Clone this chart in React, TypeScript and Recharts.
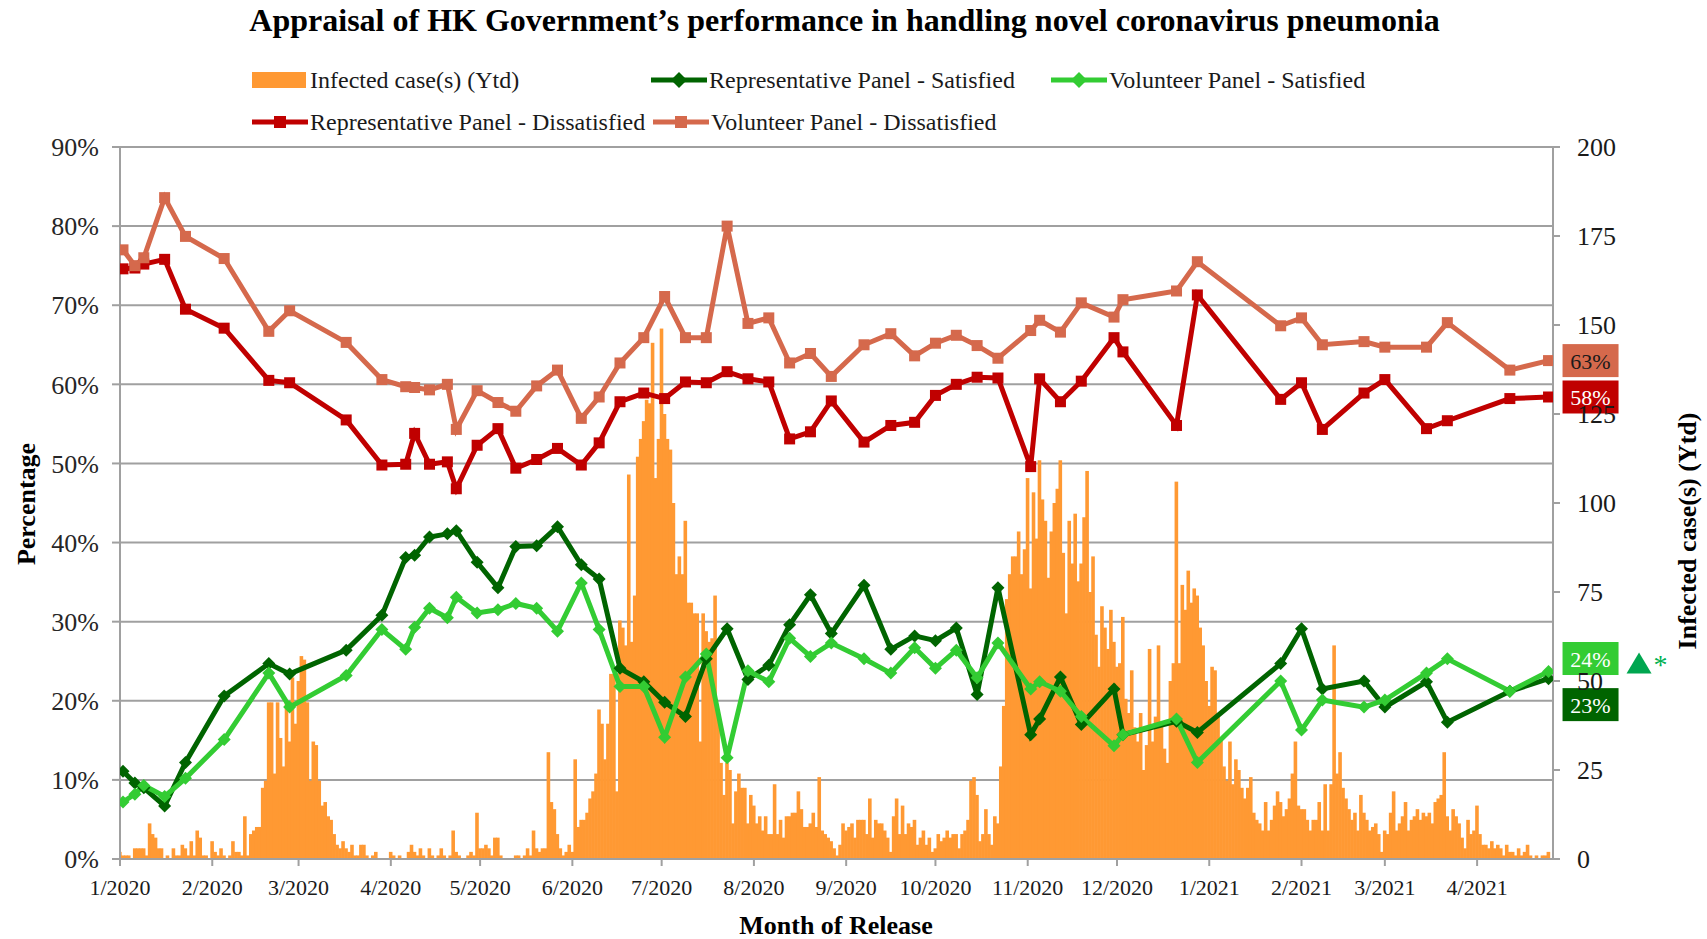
import React from "react";
import {
  ComposedChart,
  Bar,
  Line,
  XAxis,
  YAxis,
  CartesianGrid,
  ReferenceDot,
} from "recharts";

const FONT = '"Liberation Serif", "Times New Roman", Times, serif';

// x axis: days since 1 Jan 2020, ticks at month starts
const MONTH_TICKS = [0, 31, 60, 91, 121, 152, 182, 213, 244, 274, 305, 335, 366, 397, 425, 456];
const MONTH_LABELS = [
  "1/2020", "2/2020", "3/2020", "4/2020", "5/2020", "6/2020", "7/2020", "8/2020",
  "9/2020", "10/2020", "11/2020", "12/2020", "1/2021", "2/2021", "3/2021", "4/2021",
];
const PCT_TICKS = [0, 10, 20, 30, 40, 50, 60, 70, 80, 90];
const CASE_TICKS = [0, 25, 50, 75, 100, 125, 150, 175, 200];

// infected cases per day, index = day
const DAILY_CASES = [
  2, 1, 1, 1, 0, 3, 3, 3, 3, 1, 10, 7, 6, 3, 3, 0, 1, 0, 3, 1,
  1, 4, 3, 1, 5, 1, 8, 6, 1, 1, 0, 5, 2, 1, 3, 1, 0, 1, 5, 2,
  2, 1, 12, 1, 7, 8, 9, 9, 20, 22, 44, 44, 24, 44, 34, 26, 44, 33, 51, 38,
  50, 57, 56, 44, 22, 33, 32, 22, 15, 16, 12, 11, 7, 4, 3, 5, 3, 2, 4, 1,
  1, 4, 4, 1, 0, 1, 2, 0, 0, 0, 0, 2, 1, 0, 1, 0, 0, 2, 4, 2,
  1, 3, 1, 0, 3, 1, 0, 1, 3, 1, 0, 1, 8, 2, 1, 0, 0, 1, 2, 1,
  13, 3, 3, 4, 3, 1, 6, 6, 1, 0, 0, 0, 0, 1, 1, 0, 1, 3, 1, 8,
  3, 2, 3, 3, 30, 16, 14, 7, 3, 1, 2, 4, 2, 28, 9, 11, 11, 13, 17, 19,
  24, 42, 38, 28, 38, 52, 52, 19, 67, 65, 60, 108, 61, 74, 113, 118, 123, 129, 128, 145,
  107, 118, 149, 125, 118, 115, 100, 80, 85, 80, 95, 72, 72, 69, 69, 33, 69, 64, 61, 62,
  74, 42, 27, 18, 27, 25, 10, 19, 24, 20, 20, 10, 18, 15, 10, 12, 8, 12, 7, 7,
  21, 7, 11, 6, 12, 12, 13, 13, 19, 14, 9, 9, 10, 13, 9, 23, 8, 7, 6, 5,
  3, 1, 4, 10, 8, 9, 10, 6, 11, 11, 11, 7, 17, 6, 11, 10, 10, 8, 6, 2,
  12, 17, 7, 15, 7, 10, 9, 11, 4, 6, 8, 4, 6, 2, 3, 7, 5, 6, 8, 6,
  7, 7, 3, 7, 8, 11, 22, 23, 18, 5, 7, 14, 7, 4, 12, 10, 26, 43, 73, 80,
  85, 85, 92, 80, 87, 107, 76, 103, 90, 112, 101, 95, 79, 92, 100, 104, 112, 86, 69, 95,
  83, 97, 78, 83, 96, 109, 75, 85, 63, 54, 71, 65, 59, 70, 61, 54, 55, 68, 45, 41,
  53, 37, 33, 41, 25, 32, 59, 33, 40, 60, 38, 31, 27, 50, 55, 106, 55, 77, 70, 81,
  72, 76, 74, 65, 60, 50, 43, 54, 53, 40, 34, 26, 22, 33, 21, 28, 25, 20, 17, 20,
  23, 13, 11, 10, 8, 16, 8, 11, 15, 19, 16, 12, 14, 17, 24, 33, 15, 14, 14, 11,
  8, 11, 11, 16, 8, 21, 8, 21, 60, 24, 30, 20, 17, 14, 11, 13, 8, 18, 13, 11,
  8, 9, 10, 7, 2, 8, 7, 13, 19, 8, 10, 12, 16, 8, 11, 12, 14, 11, 13, 12,
  13, 10, 16, 17, 18, 30, 12, 8, 14, 12, 10, 6, 3, 11, 7, 8, 15, 7, 4, 4,
  3, 5, 3, 4, 3, 1, 4, 2, 2, 1, 3, 1, 2, 4, 1, 0, 1, 0, 1, 1,
  2,
];

// survey release days (days since 1 Jan 2020)
const SURVEY_DAYS = [
  1, 5, 8, 15, 22, 35, 50, 57, 76, 88, 96, 99, 104, 110, 113, 120, 127, 133, 140, 147,
  155, 161, 168, 176, 183, 190, 197, 204, 211, 218, 225, 232, 239, 250, 259, 267, 274, 281, 288, 295,
  306, 309, 316, 323, 334, 337, 355, 362, 390, 397, 404, 418, 425, 439, 446, 467, 480,
];
const REP_SATISFIED = [
  11.1, 9.6, 9.0, 6.7, 12.2, 20.6, 24.7, 23.4, 26.4, 30.8, 38.1, 38.4, 40.7, 41.1, 41.5, 37.5, 34.3, 39.5, 39.6, 42.0,
  37.2, 35.4, 24.1, 22.4, 19.8, 18.0, 25.3, 29.1, 22.7, 24.5, 29.6, 33.4, 28.5, 34.6, 26.5, 28.2, 27.6, 29.2, 20.8, 34.3,
  15.7, 17.7, 23.0, 17.0, 21.5, 15.7, 17.4, 16.0, 24.7, 29.1, 21.5, 22.5, 19.2, 22.4, 17.3, 21.2, 22.8,
];
const VOL_SATISFIED = [
  7.2, 8.2, 9.3, 7.9, 10.2, 15.1, 23.5, 19.2, 23.2, 29.0, 26.5, 29.3, 31.7, 30.5, 33.1, 31.1, 31.5, 32.3, 31.7, 28.8,
  34.9, 29.0, 21.8, 21.8, 15.4, 23.0, 25.9, 12.8, 23.8, 22.4, 27.9, 25.6, 27.3, 25.3, 23.5, 26.7, 24.1, 26.4, 22.9, 27.3,
  21.5, 22.4, 21.2, 18.0, 14.3, 15.7, 17.7, 12.2, 22.5, 16.3, 20.1, 19.2, 20.1, 23.5, 25.3, 21.2, 23.7,
];
const REP_DISSATISFIED = [
  74.6, 74.7, 75.2, 75.8, 69.5, 67.1, 60.5, 60.2, 55.5, 49.8, 49.9, 53.8, 49.9, 50.2, 46.8, 52.3, 54.4, 49.4, 50.5, 51.9,
  49.8, 52.6, 57.8, 58.9, 58.2, 60.3, 60.2, 61.6, 60.7, 60.3, 53.1, 54.0, 57.9, 52.7, 54.8, 55.2, 58.6, 60.0, 60.9, 60.8,
  49.6, 60.7, 57.8, 60.4, 65.9, 64.1, 54.8, 71.3, 58.1, 60.2, 54.3, 58.9, 60.6, 54.4, 55.4, 58.2, 58.4,
];
const VOL_DISSATISFIED = [
  77.0, 75.0, 76.0, 83.6, 78.7, 75.9, 66.7, 69.3, 65.3, 60.6, 59.7, 59.6, 59.3, 60.0, 54.3, 59.2, 57.7, 56.6, 59.8, 61.8,
  55.7, 58.4, 62.7, 65.9, 71.1, 65.9, 65.9, 80.0, 67.7, 68.4, 62.7, 63.9, 61.0, 65.0, 66.4, 63.6, 65.2, 66.2, 64.9, 63.3,
  66.8, 68.1, 66.6, 70.3, 68.5, 70.7, 71.8, 75.5, 67.4, 68.4, 65.0, 65.4, 64.7, 64.7, 67.8, 61.8, 63.0,
];

const COLORS = {
  cases: "#FF9933",
  repSat: "#006400",
  volSat: "#33CC33",
  repDis: "#C00000",
  volDis: "#D5694C",
};

const SERIES = [
  { key: "repSat", name: "Representative Panel - Satisfied", values: REP_SATISFIED, marker: "diamond" },
  { key: "volSat", name: "Volunteer Panel - Satisfied", values: VOL_SATISFIED, marker: "diamond" },
  { key: "repDis", name: "Representative Panel - Dissatisfied", values: REP_DISSATISFIED, marker: "square" },
  { key: "volDis", name: "Volunteer Panel - Dissatisfied", values: VOL_DISSATISFIED, marker: "square" },
];

// merge daily bars and survey points into one table
const rows: any[] = DAILY_CASES.map((cases, day) => ({ day, cases }));
SURVEY_DAYS.forEach((d, i) => {
  SERIES.forEach((s) => {
    rows[d][s.key] = s.values[i];
  });
});
const LAST_DAY = SURVEY_DAYS[SURVEY_DAYS.length - 1];

// bars drawn a touch wider than the day step so neighbouring days join up
const DayBar = (props: any) => {
  const { x, y, width, height } = props;
  if (!Number.isFinite(x) || !Number.isFinite(y) || !height) return <g />;
  const cx = x + width / 2;
  return <rect x={cx - 1.8} y={y} width={3.6} height={height} fill={COLORS.cases} />;
};

function makeDot(marker: string, color: string) {
  return (props: any) => {
    const { cx, cy, value, index } = props;
    if (value == null || !Number.isFinite(cx) || !Number.isFinite(cy)) return <g key={index} />;
    if (marker === "square") {
      const s = 11;
      return <rect key={index} x={cx - s / 2} y={cy - s / 2} width={s} height={s} fill={color} />;
    }
    const h = 6.5;
    return (
      <polygon
        key={index}
        points={`${cx},${cy - h} ${cx + h},${cy} ${cx},${cy + h} ${cx - h},${cy}`}
        fill={color}
      />
    );
  };
}

function EndTag(props: any) {
  const { cx, cy, text, bg, fg, dy, mark } = props;
  if (!Number.isFinite(cx) || !Number.isFinite(cy)) return <g />;
  const w = 56;
  const h = 33;
  const x = cx + 14;
  const c = cy + dy;
  return (
    <g>
      <rect x={x} y={c - h / 2} width={w} height={h} fill={bg} />
      <text
        x={x + w / 2}
        y={c + 8}
        textAnchor="middle"
        fontSize={22}
        fill={fg}
        fontFamily={FONT}
      >
        {text}
      </text>
      {mark && (
        <g>
          <polygon
            points={`${x + w + 8},${c + 15} ${x + w + 33},${c + 15} ${x + w + 20.5},${c - 6}`}
            fill="#00A650"
          />
          <text x={x + w + 35} y={c + 15} fontSize={28} fill="#00B050" fontFamily={FONT}>
            *
          </text>
        </g>
      )}
    </g>
  );
}

const END_TAGS = [
  { key: "volDis", values: VOL_DISSATISFIED, bg: COLORS.volDis, fg: "#1a1a1a", dy: 0, mark: false },
  { key: "repDis", values: REP_DISSATISFIED, bg: COLORS.repDis, fg: "#ffffff", dy: 0, mark: false },
  { key: "volSat", values: VOL_SATISFIED, bg: COLORS.volSat, fg: "#ffffff", dy: -13, mark: true },
  { key: "repSat", values: REP_SATISFIED, bg: COLORS.repSat, fg: "#ffffff", dy: 26, mark: false },
];

const LEGEND_ITEMS = [
  { key: "cases", name: "Infected case(s) (Ytd)", marker: "bar", left: 252, top: 80 },
  { key: "repSat", name: SERIES[0].name, marker: "diamond", left: 651, top: 80 },
  { key: "volSat", name: SERIES[1].name, marker: "diamond", left: 1051, top: 80 },
  { key: "repDis", name: SERIES[2].name, marker: "square", left: 252, top: 122 },
  { key: "volDis", name: SERIES[3].name, marker: "square", left: 653, top: 122 },
];

function LegendKey({ marker, color }: { marker: string; color: string }) {
  return (
    <svg width={56} height={20} style={{ display: "block" }}>
      {marker === "bar" ? (
        <rect x={0} y={2} width={54} height={16} fill={color} />
      ) : (
        <g>
          <line x1={0} y1={10} x2={56} y2={10} stroke={color} strokeWidth={5} />
          {marker === "square" ? (
            <rect x={22} y={4} width={12} height={12} fill={color} />
          ) : (
            <polygon points="28,2 36,10 28,18 20,10" fill={color} />
          )}
        </g>
      )}
    </svg>
  );
}

export default function App() {
  return (
    <div
      style={{
        position: "absolute",
        left: 0,
        top: 0,
        width: 1707,
        height: 939,
        background: "#ffffff",
        fontFamily: FONT,
        color: "#000",
      }}
    >
      <div
        style={{
          position: "absolute",
          left: 0,
          width: 1689,
          top: 2,
          textAlign: "center",
          fontSize: 32,
          lineHeight: "36px",
          fontWeight: "bold",
          whiteSpace: "nowrap",
        }}
      >
        Appraisal of HK Government’s performance in handling novel coronavirus pneumonia
      </div>

      {LEGEND_ITEMS.map((item) => (
        <div
          key={item.key}
          style={{
            position: "absolute",
            left: item.left,
            top: item.top - 14,
            height: 28,
            display: "flex",
            alignItems: "center",
            fontSize: 24,
            whiteSpace: "nowrap",
            color: "#1a1a1a",
          }}
        >
          <LegendKey marker={item.marker} color={(COLORS as any)[item.key]} />
          <span style={{ marginLeft: 2 }}>{item.name}</span>
        </div>
      ))}

      <div
        style={{
          position: "absolute",
          left: 27,
          top: 504,
          transform: "translate(-50%, -50%) rotate(-90deg)",
          fontSize: 26,
          fontWeight: "bold",
          whiteSpace: "nowrap",
        }}
      >
        Percentage
      </div>
      <div
        style={{
          position: "absolute",
          left: 1688,
          top: 531,
          transform: "translate(-50%, -50%) rotate(-90deg)",
          fontSize: 26,
          fontWeight: "bold",
          whiteSpace: "nowrap",
        }}
      >
        Infected case(s) (Ytd)
      </div>
      <div
        style={{
          position: "absolute",
          left: 836,
          top: 926,
          transform: "translate(-50%, -50%)",
          fontSize: 26,
          fontWeight: "bold",
          whiteSpace: "nowrap",
        }}
      >
        Month of Release
      </div>

      <div style={{ position: "absolute", left: 0, top: 0 }}>
        <ComposedChart
          width={1707}
          height={939}
          data={rows}
          margin={{ top: 147, right: 74, bottom: 40, left: 60 }}
        >
          <CartesianGrid vertical={false} yAxisId="left" stroke="#A0A0A0" strokeWidth={2} />
          <XAxis
            dataKey="day"
            type="number"
            domain={[0, 481.5]}
            ticks={MONTH_TICKS}
            interval={0}
            allowDataOverflow
            tickFormatter={(v: number) => MONTH_LABELS[MONTH_TICKS.indexOf(v)]}
            height={40}
            tickSize={7}
            tickMargin={13}
            stroke="#A0A0A0"
            strokeWidth={2}
            tick={{ fill: "#1a1a1a", fontSize: 22, fontFamily: FONT }}
          />
          <YAxis
            yAxisId="left"
            domain={[0, 90]}
            ticks={PCT_TICKS}
            interval={0}
            tickFormatter={(v: number) => `${v}%`}
            width={60}
            tickSize={8}
            tickMargin={13}
            stroke="#A0A0A0"
            strokeWidth={2}
            tick={{ fill: "#262626", fontSize: 26, fontFamily: FONT }}
          />
          <YAxis
            yAxisId="right"
            orientation="right"
            domain={[0, 200]}
            ticks={CASE_TICKS}
            interval={0}
            width={80}
            tickSize={7}
            tickMargin={17}
            stroke="#A0A0A0"
            strokeWidth={2}
            tick={{ fill: "#1a1a1a", fontSize: 26, fontFamily: FONT }}
          />
          <Bar
            dataKey="cases"
            yAxisId="right"
            fill={COLORS.cases}
            barSize={3}
            shape={DayBar}
            isAnimationActive={false}
          />
          {SERIES.map((s) => (
            <Line
              key={s.key}
              type="linear"
              dataKey={s.key}
              yAxisId="left"
              stroke={(COLORS as any)[s.key]}
              strokeWidth={5}
              connectNulls
              dot={makeDot(s.marker, (COLORS as any)[s.key])}
              activeDot={false}
              isAnimationActive={false}
            />
          ))}
          {END_TAGS.map((t) => {
            const v = t.values[t.values.length - 1];
            return (
              <ReferenceDot
                key={t.key}
                yAxisId="left"
                x={LAST_DAY}
                y={v}
                r={0}
                ifOverflow="visible"
                shape={(p: any) => (
                  <EndTag
                    cx={p.cx}
                    cy={p.cy}
                    text={`${Math.round(v)}%`}
                    bg={t.bg}
                    fg={t.fg}
                    dy={t.dy}
                    mark={t.mark}
                  />
                )}
              />
            );
          })}
        </ComposedChart>
      </div>
    </div>
  );
}
